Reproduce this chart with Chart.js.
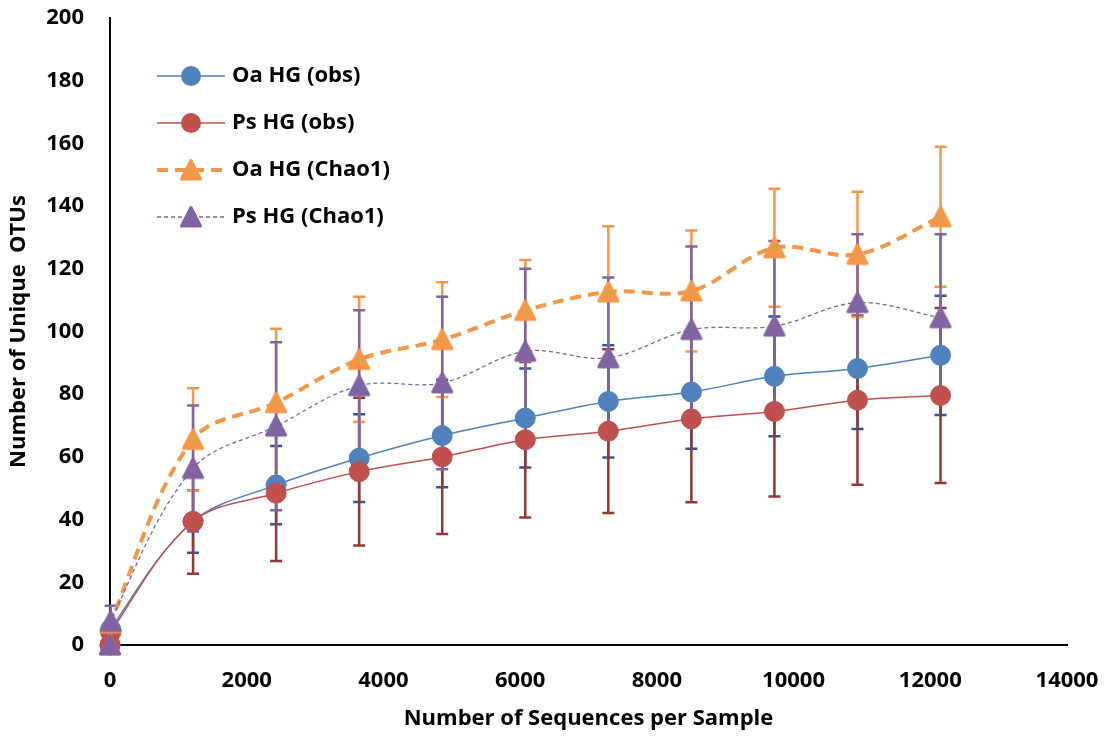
<!DOCTYPE html>
<html>
<head>
<meta charset="utf-8">
<script src="https://cdn.jsdelivr.net/npm/chart.js@4.4.1/dist/chart.umd.min.js"></script>
<style>
  html, body { margin: 0; padding: 0; background: #fff; }
  #wrap { width: 1112px; height: 736px; }
</style>
</head>
<body>
<div id="wrap"><canvas id="c" width="1112" height="736"></canvas></div>
<script>
// ---- Data ----
const seqDepth   = [0, 10, 1215, 2430, 3645, 4860, 6075, 7290, 8505, 9720, 10935, 12150];
const oaObs      = [0, 5, 39.4, 51.0, 59.6, 66.8, 72.4, 77.7, 80.7, 85.7, 88.2, 92.4];
const oaObsErr   = [0, 0, 10.0, 12.5, 14.0, 16.5, 15.8, 17.9, 18.1, 19.1, 19.3, 19.0];
const psObs      = [0, 4, 39.4, 48.4, 55.3, 60.0, 65.5, 68.2, 72.1, 74.5, 78.1, 79.6];
const psObsErr   = [0, 0, 16.7, 21.6, 23.6, 24.6, 24.8, 26.1, 26.6, 27.1, 27.0, 27.9];
const oaChao1    = [0, 7, 65.6, 77.3, 91.1, 97.4, 106.7, 112.6, 112.9, 126.7, 124.6, 136.6];
const oaChao1Err = [0, 0, 16.3, 23.6, 20.0, 18.3, 16.1, 21.0, 19.3, 18.8, 20.0, 22.3];
const psChao1    = [0, 7.5, 56.3, 69.8, 82.7, 83.6, 93.7, 91.6, 100.6, 101.7, 109.2, 104.4];
const psChao1Err = [0, 5, 20.1, 26.8, 24.1, 27.5, 26.3, 25.6, 26.5, 27.2, 21.8, 26.6];
const seriesNames = ['Oa HG (obs)', 'Ps HG (obs)', 'Oa HG (Chao1)', 'Ps HG (Chao1)'];
const xTickStep = 2000;
const yTickStep = 20;

// ---- Styles ----
const FONT = '"Open Sans", "Liberation Sans", Arial, sans-serif';
const cBlue = '#4F81BD', cRed = '#C0504D', cOrange = '#F79646', cPurple = '#8064A2';
const eBlue = '#2F5A8E', eRed = '#953735', eOrange = '#F79646', ePurple = '#8064A2';

function makeTriangle(color, innerColor) {
  const cv = document.createElement('canvas');
  cv.width = 26; cv.height = 26;
  const g = cv.getContext('2d');
  g.lineJoin = 'round';
  g.lineWidth = 3;
  g.fillStyle = color; g.strokeStyle = color;
  g.beginPath();
  g.moveTo(13, 3.5); g.lineTo(3.5, 22); g.lineTo(22.5, 22); g.closePath();
  g.fill(); g.stroke();
  if (innerColor) {
    g.fillStyle = innerColor;
    g.beginPath();
    g.moveTo(13, 11.5); g.lineTo(11, 15.5); g.lineTo(15, 15.5); g.closePath();
    g.fill();
  }
  return cv;
}
const triOrange = makeTriangle(cOrange, '#9BBB59');
const triPurple = makeTriangle(cPurple, null);

function pts(vals) { return seqDepth.map((x, i) => ({ x: x, y: vals[i] })); }

const errs = [oaObsErr, psObsErr, oaChao1Err, psChao1Err];
const errColors = [eBlue, eRed, eOrange, ePurple];

const errorBarPlugin = {
  id: 'errorBars',
  beforeDatasetsDraw(chart) {
    const ctx = chart.ctx;
    const xs = chart.scales.x, ys = chart.scales.y;
    ctx.save();
    for (let d = 0; d < chart.data.datasets.length; d++) {
      const ds = chart.data.datasets[d];
      const e = errs[d];
      ctx.strokeStyle = errColors[d];
      ctx.lineWidth = 2.5;
      ds.data.forEach((p, i) => {
        if (!e[i]) return;
        const px = xs.getPixelForValue(p.x);
        const yTop = ys.getPixelForValue(p.y + e[i]);
        const yBot = ys.getPixelForValue(p.y - e[i]);
        ctx.beginPath();
        ctx.moveTo(px, yTop); ctx.lineTo(px, yBot);
        ctx.moveTo(px - 6, yTop); ctx.lineTo(px + 6, yTop);
        ctx.moveTo(px - 6, yBot); ctx.lineTo(px + 6, yBot);
        ctx.stroke();
      });
    }
    ctx.restore();
  }
};

const legendItems = [
  { color: cBlue, width: 1.5, dash: [], marker: 'circle' },
  { color: cRed, width: 1.5, dash: [], marker: 'circle' },
  { color: cOrange, width: 4, dash: [11, 7], marker: triOrange },
  { color: cPurple, width: 1.3, dash: [4, 3], marker: triPurple }
];
const legendPlugin = {
  id: 'customLegend',
  afterDraw(chart) {
    const ctx = chart.ctx;
    ctx.save();
    const rowY = [76, 123, 170, 217];
    legendItems.forEach((it, i) => {
      const y = rowY[i];
      ctx.strokeStyle = it.color;
      ctx.lineWidth = it.width;
      ctx.setLineDash(it.dash);
      ctx.beginPath();
      ctx.moveTo(157, y); ctx.lineTo(225, y);
      ctx.stroke();
      ctx.setLineDash([]);
      if (it.marker === 'circle') {
        ctx.fillStyle = it.color;
        ctx.beginPath();
        ctx.arc(191, y, 10, 0, Math.PI * 2);
        ctx.fill();
      } else {
        ctx.drawImage(it.marker, 191 - 13, y - 13);
      }
      ctx.fillStyle = '#000';
      ctx.font = 'bold 22px ' + FONT;
      ctx.textBaseline = 'middle';
      ctx.textAlign = 'left';
      ctx.fillText(seriesNames[i], 232, y);
    });
    ctx.restore();
  }
};

const tickFont = { family: FONT, size: 22, weight: 'bold' };
const titleFont = { family: FONT, size: 22, weight: 'bold' };

new Chart(document.getElementById('c'), {
  type: 'line',
  data: {
    datasets: [
      { label: seriesNames[0], data: pts(oaObs), borderColor: cBlue, backgroundColor: cBlue,
        borderWidth: 1.5, pointRadius: 10, pointHoverRadius: 10, pointBorderWidth: 1,
        pointBackgroundColor: cBlue, pointBorderColor: cBlue, tension: 0.35, order: 4, clip: false },
      { label: seriesNames[1], data: pts(psObs), borderColor: cRed, backgroundColor: cRed,
        borderWidth: 1.5, pointRadius: 10, pointHoverRadius: 10, pointBorderWidth: 1,
        pointBackgroundColor: cRed, pointBorderColor: cRed, tension: 0.35, order: 3, clip: false },
      { label: seriesNames[2], data: pts(oaChao1), borderColor: cOrange, backgroundColor: cOrange,
        borderWidth: 4, borderDash: [11, 7], pointStyle: triOrange, pointRadius: 10,
        tension: 0.35, order: 2, clip: false },
      { label: seriesNames[3], data: pts(psChao1), borderColor: cPurple, backgroundColor: cPurple,
        borderWidth: 1.3, borderDash: [4, 3], pointStyle: triPurple, pointRadius: 10,
        tension: 0.35, order: 1, clip: false }
    ]
  },
  options: {
    responsive: false,
    animation: false,
    events: [],
    layout: { padding: { left: 0, right: 45, top: 18, bottom: 0 } },
    plugins: { legend: { display: false }, tooltip: { enabled: false } },
    scales: {
      x: {
        type: 'linear', min: 0, max: 14000,
        ticks: { stepSize: xTickStep, color: '#000', font: tickFont, padding: 23, maxRotation: 0,
                 callback: v => String(v) },
        grid: { display: false, drawTicks: false },
        border: { display: true, color: '#000', width: 2 },
        title: { display: true, text: 'Number of Sequences per Sample', color: '#000', font: titleFont,
                 padding: { top: 4, bottom: 4 } },
        afterFit: s => { s.height = 91; s.paddingLeft = 0; s.paddingRight = 0; }
      },
      y: {
        type: 'linear', min: 0, max: 200,
        ticks: { stepSize: yTickStep, color: '#000', font: tickFont, padding: 26 },
        grid: { display: false, drawTicks: false },
        border: { display: true, color: '#000', width: 2 },
        title: { display: true, text: 'Number of Unique  OTUs', color: '#000', font: titleFont,
                 padding: { top: 6, bottom: 4 } },
        afterFit: s => { s.width = 110; s.paddingTop = 0; s.paddingBottom = 0; }
      }
    }
  },
  plugins: [errorBarPlugin, legendPlugin]
});
</script>
</body>
</html>
